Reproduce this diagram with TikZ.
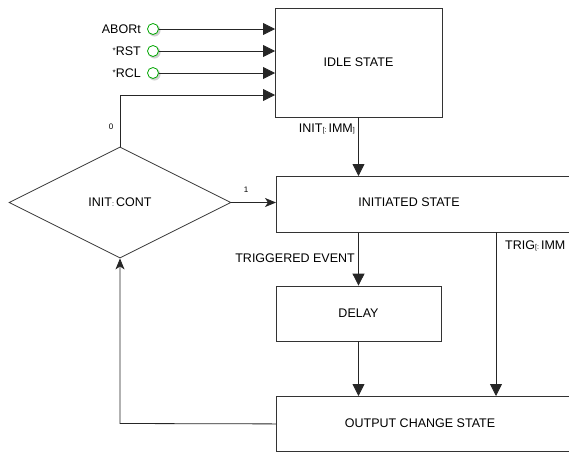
\documentclass[tikz,border=0pt]{standalone}
\usepackage{fontspec}
\setmainfont{Liberation Sans}
\usetikzlibrary{arrows.meta,shapes.geometric}
\newcommand{\smallast}{\raisebox{1.5pt}{\fontsize{8}{8}\selectfont *}}
\begin{document}
\begin{tikzpicture}[x=1pt,y=-1pt,
  font=\fontsize{12.5}{14}\selectfont,
  box/.style={draw=black!80,line width=0.8pt,inner sep=0pt},
  conn/.style={draw=black!85,line width=0.8pt},
  tri/.style={-{Triangle[length=12pt,width=12pt]}},
  stl/.style={-{Stealth[length=11pt,width=9pt,inset=3pt]}},
  pin/.style={circle,draw=green!65!black,fill=white,line width=0.8pt,minimum size=11pt,inner sep=0pt},
  lbl/.style={inner sep=0pt}]
\useasboundingbox (0,0) rectangle (569,453);
\node[box,minimum width=167pt,minimum height=109pt] (idle) at (358.5,62.5) {IDLE STATE};
\node[box,minimum width=294pt,minimum height=56pt,anchor=north west] (init) at (276,176) {};
\node at (409,202) {INITIATED STATE};
\node[box,minimum width=165pt,minimum height=55pt] (delay) at (358.5,313.5) {DELAY};
\node[box,minimum width=294pt,minimum height=55pt,anchor=north west] (out) at (276,396) {};
\node at (420,423) {OUTPUT CHANGE STATE};
\node[box,diamond,minimum width=222pt,minimum height=111pt,aspect=2] (dia) at (120,202.5) {INIT{\scriptsize:}\,CONT};
% pins
\foreach \n/\y/\t in {a/29/ABORt,r/51/{\smallast RST},c/73/{\smallast RCL}}{
  \fill[black!18] (154.5,\y+1.5) circle (6pt);
  \node[pin] (p\n) at (153,\y) {};
  \node[lbl,anchor=east] at (141,\y) {\t};
  \coordinate (e\n) at (275,\y);
  \draw[conn,tri] (p\n) -- (e\n);
}
% 0 path
\coordinate (e0) at (275,95);
\draw[conn,tri] (dia.north) -- (120,95) -- (e0);
\node[lbl,font=\fontsize{8}{9}\selectfont] at (111,127) {0};
% 1 path
\draw[conn,stl] (dia.east) -- (init.west |- dia.east);
\node[lbl,font=\fontsize{8}{9}\selectfont] at (246,190) {1};
% idle to init
\draw[conn,tri] (idle.south) -- (idle.south |- init.north);
\node[lbl,anchor=east] at (355,129) {INIT{\scriptsize[:}\,IMM{\scriptsize]}};
% init to delay
\draw[conn,tri] (delay.north |- init.south) -- (delay.north);
\node[lbl,anchor=east] at (355,258) {TRIGGERED EVENT};
% delay to out
\draw[conn,tri] (delay.south) -- (delay.south |- out.north);
% trig imm
\coordinate (t1) at (496,232);
\coordinate (t2) at (496,396);
\draw[conn,tri] (t1) -- (t2);
\node[lbl,anchor=west] at (505,246) {TRIG{\scriptsize[:}\,IMM};
% feedback
\draw[conn,stl] (out.west) -- (120,423.5) -- (dia.south);
\end{tikzpicture}
\end{document}
